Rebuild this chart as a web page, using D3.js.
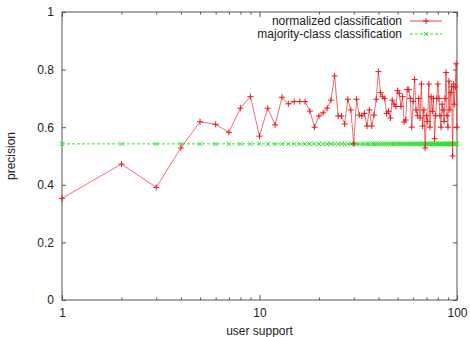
<!DOCTYPE html>
<html>
<head>
<meta charset="utf-8">
<script src="https://cdn.jsdelivr.net/npm/d3@7"></script>
<style>
  html, body { margin: 0; padding: 0; background: #fff; }
  svg { display: block; font-family: "Liberation Sans", Arial, sans-serif; }
</style>
</head>
<body>
<svg id="chart" width="470" height="337"></svg>
<script>
// ---- data ----
const userSupport = d3.range(1, 101);
const normalizedPrecision = [
  0.353, 0.472, 0.391, 0.528, 0.619, 0.610, 0.582, 0.666, 0.706, 0.569,
  0.666, 0.608, 0.704, 0.681, 0.689, 0.689, 0.689, 0.656, 0.600, 0.639,
  0.650, 0.666, 0.694, 0.778, 0.639, 0.639, 0.611, 0.697, 0.660, 0.542,
  0.697, 0.642, 0.639, 0.648, 0.604, 0.660, 0.604, 0.642, 0.697, 0.793,
  0.720, 0.706, 0.700, 0.648, 0.655, 0.632, 0.694, 0.680, 0.672, 0.727,
  0.718, 0.672, 0.706, 0.618, 0.625, 0.731, 0.731, 0.700, 0.600, 0.690,
  0.766, 0.660, 0.640, 0.700, 0.632, 0.750, 0.604, 0.660, 0.528, 0.640,
  0.620, 0.750, 0.600, 0.706, 0.655, 0.700, 0.560, 0.640, 0.700, 0.750,
  0.700, 0.640, 0.600, 0.680, 0.660, 0.620, 0.700, 0.790, 0.640, 0.600,
  0.760, 0.660, 0.720, 0.740, 0.500, 0.750, 0.680, 0.740, 0.820, 0.600
];
const majorityPrecision = userSupport.map(() => 0.542);
const seriesNames = ["normalized classification", "majority-class classification"];
const xMajorTicks = [1, 10, 100];
const xMinorTicks = [2,3,4,5,6,7,8,9,20,30,40,50,60,70,80,90];
const yTicks = [0, 0.2, 0.4, 0.6, 0.8, 1];

// ---- layout ----
const L = 62, R = 457, T = 12, B = 300;
const svg = d3.select("#chart");
const x = d3.scaleLog().domain([1, 100]).range([L, R]);
const y = d3.scaleLinear().domain([0, 1]).range([B, T]);
const frameColor = "#555";
const textColor = "#222";
const red = "#e41a1a";
const green = "#33e033";

function styleAxis(g) {
  g.select(".domain").remove();
  g.selectAll(".tick line").attr("stroke", frameColor).attr("stroke-width", 1);
  g.selectAll(".tick text").attr("fill", textColor).attr("font-size", 12)
    .attr("font-family", "Liberation Sans, Arial, sans-serif");
}

// bottom axis major with labels
svg.append("g").attr("transform", `translate(0,${B})`)
  .call(d3.axisBottom(x).tickValues(xMajorTicks).tickFormat(d3.format("d"))
    .tickSizeInner(-5).tickSizeOuter(0).tickPadding(8.5))
  .call(styleAxis);
svg.append("g").attr("transform", `translate(0,${B})`)
  .call(d3.axisBottom(x).tickValues(xMinorTicks).tickFormat("")
    .tickSizeInner(-2.5).tickSizeOuter(0))
  .call(styleAxis);
// top mirror
svg.append("g").attr("transform", `translate(0,${T})`)
  .call(d3.axisTop(x).tickValues(xMajorTicks).tickFormat("")
    .tickSizeInner(-5).tickSizeOuter(0))
  .call(styleAxis);
svg.append("g").attr("transform", `translate(0,${T})`)
  .call(d3.axisTop(x).tickValues(xMinorTicks).tickFormat("")
    .tickSizeInner(-2.5).tickSizeOuter(0))
  .call(styleAxis);
// left axis
svg.append("g").attr("transform", `translate(${L},0)`)
  .call(d3.axisLeft(y).tickValues(yTicks).tickFormat(d => d === 0 || d === 1 ? d3.format("d")(d) : d3.format(".1f")(d))
    .tickSizeInner(-4).tickSizeOuter(0).tickPadding(8))
  .call(styleAxis);
// right mirror
svg.append("g").attr("transform", `translate(${R},0)`)
  .call(d3.axisRight(y).tickValues(yTicks).tickFormat("")
    .tickSizeInner(-4).tickSizeOuter(0))
  .call(styleAxis);

// frame
svg.append("rect").attr("x", L).attr("y", T).attr("width", R - L).attr("height", B - T)
  .attr("fill", "none").attr("stroke", frameColor).attr("stroke-width", 1);

// axis titles
svg.append("text").attr("x", (L + R) / 2).attr("y", 335).attr("text-anchor", "middle")
  .attr("font-size", 12).attr("fill", textColor).text("user support");
svg.append("text").attr("transform", `translate(15,${(T + B) / 2}) rotate(-90)`)
  .attr("text-anchor", "middle").attr("font-size", 12).attr("fill", textColor).text("precision");

const plot = svg.append("g");

// majority series (green dashed with x markers)
const line = d3.line().x((d, i) => x(userSupport[i])).y(d => y(d));
plot.append("path").datum(majorityPrecision).attr("d", line)
  .attr("fill", "none").attr("stroke", green).attr("stroke-width", 1).attr("stroke-dasharray", "3,2");
const xMark = (g, cx, cy, s, c) => {
  g.append("path").attr("d", `M${cx - s},${cy - s}L${cx + s},${cy + s}M${cx - s},${cy + s}L${cx + s},${cy - s}`)
    .attr("stroke", c).attr("stroke-width", 1).attr("fill", "none");
};
const plusMark = (g, cx, cy, s, c) => {
  g.append("path").attr("d", `M${cx - s},${cy}L${cx + s},${cy}M${cx},${cy - s}L${cx},${cy + s}`)
    .attr("stroke", c).attr("stroke-width", 1).attr("fill", "none");
};
const gm = plot.append("g");
majorityPrecision.forEach((v, i) => xMark(gm, x(userSupport[i]), y(v), 2.2, green));

// normalized series (red line with + markers)
plot.append("path").datum(normalizedPrecision).attr("d", line)
  .attr("fill", "none").attr("stroke", red).attr("stroke-width", 0.8).attr("stroke-opacity", 0.8);
const rm = plot.append("g");
normalizedPrecision.forEach((v, i) => plusMark(rm, x(userSupport[i]), y(v), 3, red));

// legend
const legY = [21, 34];
const legColors = [red, green];
seriesNames.forEach((name, i) => {
  svg.append("text").attr("x", 402).attr("y", legY[i] + 4).attr("text-anchor", "end")
    .attr("font-size", 12).attr("fill", textColor).text(name);
  const ln = svg.append("line").attr("x1", 410).attr("x2", 442).attr("y1", legY[i]).attr("y2", legY[i])
    .attr("stroke", legColors[i]).attr("stroke-width", i === 0 ? 0.8 : 1);
  if (i === 1) { ln.attr("stroke-dasharray", "3,2"); xMark(svg, 426, legY[i], 2.2, green); }
  else plusMark(svg, 426, legY[i], 3, red);
});
</script>
</body>
</html>
